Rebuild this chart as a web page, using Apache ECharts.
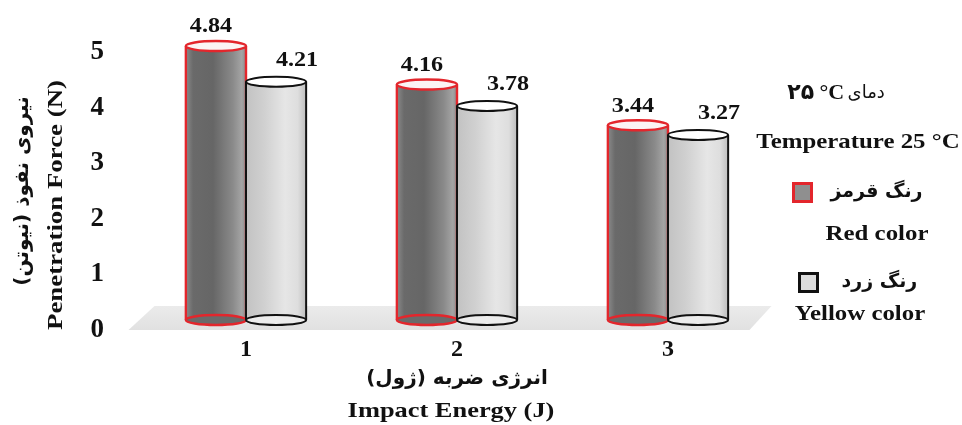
<!DOCTYPE html>
<html>
<head>
<meta charset="utf-8">
<script src="https://cdn.jsdelivr.net/npm/echarts@6/dist/echarts.min.js"></script>
<style>
  html, body { margin: 0; padding: 0; background: #ffffff; }
  #chart { width: 962px; height: 425px; }
</style>
</head>
<body>
<div id="chart"></div>
<script>
// Impact energy categories (J)
const categories = ['1', '2', '3'];
// Penetration force (N) at 25 °C
const redValues = [4.84, 4.16, 3.44];
const yellowValues = [4.21, 3.78, 3.27];
// Value axis range
const yMin = 0;
const yMax = 5;
const yStep = 1;
// Series names
const seriesNamesFa = ['رنگ قرمز', 'رنگ زرد'];
const seriesNamesEn = ['Red color', 'Yellow color'];

const SERIF = '"Liberation Serif", "Times New Roman", "DejaVu Sans", serif';
const PERSIAN = '"DejaVu Sans", "Liberation Serif", sans-serif';
const TXT = '#111111';

const chart = echarts.init(document.getElementById('chart'), null, { renderer: 'canvas' });

// Look of each cylinder family
const cylStyles = [
  {
    stroke: '#e3262c',
    lineWidth: 2.4,
    body: new echarts.graphic.LinearGradient(0, 0, 1, 0, [
      { offset: 0, color: '#8a8a8a' },
      { offset: 0.12, color: '#6a6a6a' },
      { offset: 0.45, color: '#666666' },
      { offset: 0.78, color: '#8a8a8a' },
      { offset: 0.93, color: '#a4a4a4' },
      { offset: 1, color: '#8a8a8a' }
    ]),
    topFill: '#fbf4f4',
    bottomFill: '#6a6a6a',
    labelDx: -5,
    labelDy: -19
  },
  {
    stroke: '#111111',
    lineWidth: 2,
    body: new echarts.graphic.LinearGradient(0, 0, 1, 0, [
      { offset: 0, color: '#c2c2c2' },
      { offset: 0.3, color: '#d0d0d0' },
      { offset: 0.65, color: '#e6e6e6' },
      { offset: 0.86, color: '#dedede' },
      { offset: 1, color: '#bdbdbd' }
    ]),
    topFill: '#ffffff',
    bottomFill: '#ececec',
    labelDx: 21,
    labelDy: -21
  }
];

function cylinderRenderer(idx) {
  const st = cylStyles[idx];
  return function (params, api) {
    const cat = api.value(0);
    const val = api.value(1);
    const top = api.coord([cat, val]);
    const base = api.coord([cat, 0]);
    const band = api.size([1, 0])[0];
    const bw = band * 0.285;
    const cx = top[0] + (idx === 0 ? -bw / 2 : bw / 2);
    const x0 = cx - bw / 2;
    const x1 = cx + bw / 2;
    const ry = 5;
    return {
      type: 'group',
      children: [
        { type: 'rect', shape: { x: x0, y: top[1], width: bw, height: base[1] - top[1] },
          style: { fill: st.body } },
        { type: 'ellipse', shape: { cx: cx, cy: base[1], rx: bw / 2, ry: ry },
          style: { fill: st.bottomFill, stroke: st.stroke, lineWidth: st.lineWidth } },
        { type: 'line', shape: { x1: x0, y1: top[1], x2: x0, y2: base[1] },
          style: { stroke: st.stroke, lineWidth: st.lineWidth } },
        { type: 'line', shape: { x1: x1, y1: top[1], x2: x1, y2: base[1] },
          style: { stroke: st.stroke, lineWidth: st.lineWidth } },
        { type: 'ellipse', shape: { cx: cx, cy: top[1], rx: bw / 2, ry: ry },
          style: { fill: st.topFill, stroke: st.stroke, lineWidth: st.lineWidth } },
        { type: 'text', x: cx + st.labelDx, y: top[1] + st.labelDy, scaleX: 1.15,
          style: { text: val.toFixed(2), align: 'center', verticalAlign: 'middle',
                   fontFamily: SERIF, fontWeight: 'bold', fontSize: 21, fill: TXT } }
      ]
    };
  };
}

// Grey floor plane under the cylinders
function floorRenderer(params, api) {
  const cs = params.coordSys;
  const baseY = api.coord([0, 0])[1];
  return {
    type: 'polygon',
    shape: {
      points: [
        [cs.x + 14, baseY - 14],
        [cs.x + cs.width - 2, baseY - 14],
        [cs.x + cs.width - 24, baseY + 10],
        [cs.x - 12, baseY + 10]
      ]
    },
    style: {
      fill: new echarts.graphic.LinearGradient(0, 0, 0, 1, [
        { offset: 0, color: '#ebebeb' },
        { offset: 1, color: '#e1e1e1' }
      ])
    }
  };
}

const textLine = (text, x, y, size, opts) => Object.assign({
  type: 'text', x: x, y: y,
  style: { text: text, align: 'center', verticalAlign: 'middle',
           fontFamily: SERIF, fontWeight: 'bold', fontSize: size, fill: TXT }
}, opts || {});

const persianLine = (text, x, y, size, opts) => Object.assign({
  type: 'text', x: x, y: y,
  style: { text: text, align: 'center', verticalAlign: 'middle',
           fontFamily: PERSIAN, fontWeight: 'bold', fontSize: size, fill: TXT }
}, opts || {});

const option = {
  backgroundColor: '#ffffff',
  animation: false,
  grid: [
    { left: 112, top: 52, width: 20, height: 278 },
    { left: 140.5, top: 37, width: 633, height: 283 }
  ],
  xAxis: [
    { gridIndex: 0, type: 'category', data: categories, show: false },
    { gridIndex: 1, type: 'category', data: categories,
      axisLine: { show: false }, axisTick: { show: false },
      axisLabel: { margin: 18, fontFamily: SERIF, fontWeight: 'bold', fontSize: 24, color: TXT } }
  ],
  yAxis: [
    { gridIndex: 0, type: 'value', min: yMin, max: yMax, interval: yStep,
      axisLine: { show: false }, axisTick: { show: false }, splitLine: { show: false },
      axisLabel: { margin: 8, fontFamily: SERIF, fontWeight: 'bold', fontSize: 27, color: TXT } },
    { gridIndex: 1, type: 'value', min: yMin, max: yMax, show: false, splitLine: { show: false } }
  ],
  legend: [
    { data: [{ name: seriesNamesFa[0], itemStyle: { color: '#8f8f8f', borderColor: '#e3262c', borderWidth: 3 } }],
      left: 792, top: 182, padding: 0, icon: 'rect', itemWidth: 18, itemHeight: 18, selectedMode: false,
      textStyle: { fontFamily: PERSIAN, fontWeight: 'bold', fontSize: 19, color: TXT, padding: [0, 0, 0, 14] } },
    { data: [{ name: seriesNamesFa[1], itemStyle: { color: '#dcdcdc', borderColor: '#111111', borderWidth: 3 } }],
      left: 798, top: 272, padding: 0, icon: 'rect', itemWidth: 18, itemHeight: 18, selectedMode: false,
      textStyle: { fontFamily: PERSIAN, fontWeight: 'bold', fontSize: 19, color: TXT, padding: [0, 0, 0, 19] } }
  ],
  graphic: [
    // value axis title (two lines, rotated)
    persianLine('نیروی نفوذ (نیوتن)', 23, 191, 20, { rotation: Math.PI / 2 }),
    textLine('Penetration Force (N)', 56, 205, 22, { rotation: Math.PI / 2, scaleX: 1.22 }),
    // category axis title (two lines)
    persianLine('انرژی ضربه (ژول)', 457, 379, 20),
    textLine('Impact Energy (J)', 451, 411, 22, { scaleX: 1.2 }),
    // legend heading
    { type: 'text', x: 836, y: 93,
      style: { text: '{b|۲۵ °C} {a|دمای}', align: 'center', verticalAlign: 'middle',
               rich: {
                 b: { fontFamily: SERIF, fontWeight: 'bold', fontSize: 22, fill: TXT, color: TXT },
                 a: { fontFamily: PERSIAN, fontWeight: 'normal', fontSize: 18, fill: TXT, color: TXT }
               } } },
    textLine('Temperature 25 °C', 858, 142, 22, { scaleX: 1.13 }),
    textLine(seriesNamesEn[0], 877, 234, 22, { scaleX: 1.13 }),
    textLine(seriesNamesEn[1], 860, 314, 22, { scaleX: 1.13 })
  ],
  series: [
    { type: 'custom', name: 'floor', xAxisIndex: 1, yAxisIndex: 1, z: 1,
      renderItem: floorRenderer, data: [[0, 0]], silent: true },
    { type: 'custom', name: seriesNamesFa[0], xAxisIndex: 1, yAxisIndex: 1, z: 2,
      itemStyle: { color: '#8f8f8f' },
      renderItem: cylinderRenderer(0), data: redValues.map((v, i) => [i, v]) },
    { type: 'custom', name: seriesNamesFa[1], xAxisIndex: 1, yAxisIndex: 1, z: 3,
      itemStyle: { color: '#dcdcdc' },
      renderItem: cylinderRenderer(1), data: yellowValues.map((v, i) => [i, v]) }
  ]
};

chart.setOption(option);
</script>
</body>
</html>
